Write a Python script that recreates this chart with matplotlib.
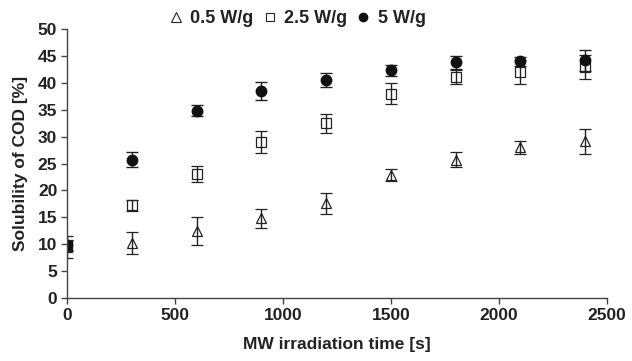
import matplotlib
matplotlib.use("Agg")
import matplotlib.pyplot as plt
from matplotlib.lines import Line2D

plt.rcParams['font.family'] = ['Liberation Sans', 'DejaVu Sans']
plt.rcParams['font.weight'] = 'bold'

time_s = [0, 300, 600, 900, 1200, 1500, 1800, 2100, 2400]

sol_05 = [9.5, 10.2, 12.5, 14.8, 17.6, 22.8, 25.7, 28.0, 29.1]
err_05 = [2.0, 2.1, 2.6, 1.8, 2.0, 1.1, 1.4, 1.2, 2.4]

sol_25 = [9.7, 17.2, 23.0, 29.0, 32.5, 38.0, 41.0, 42.0, 43.0]
err_25 = [1.0, 1.0, 1.5, 2.0, 1.8, 2.0, 1.3, 2.3, 2.2]

sol_5 = [9.8, 25.7, 34.8, 38.5, 40.5, 42.3, 43.8, 44.0, 44.2]
err_5 = [0.8, 1.4, 1.0, 1.7, 1.3, 1.0, 1.2, 0.8, 2.0]

series_labels = ['0.5 W/g', '2.5 W/g', '5 W/g']

fig = plt.figure(figsize=(6.32, 3.61), dpi=100)
ax = fig.add_axes([0.106, 0.1745, 0.854, 0.745])

ecol = '#222222'
common = dict(linestyle='none', ecolor=ecol, elinewidth=1.0, capsize=4, capthick=1.0)

ax.errorbar(time_s, sol_05, yerr=err_05, marker='^', markersize=7.5,
            markerfacecolor='none', markeredgecolor='#222222', markeredgewidth=0.9,
            label=series_labels[0], **common)
ax.errorbar(time_s, sol_25, yerr=err_25, marker='s', markersize=6.5,
            markerfacecolor='none', markeredgecolor='#222222', markeredgewidth=0.9,
            label=series_labels[1], **common)
ax.errorbar(time_s, sol_5, yerr=err_5, marker='o', markersize=7.5,
            markerfacecolor='#111111', markeredgecolor='#111111',
            label=series_labels[2], **common)

ax.set_xlim(0, 2500)
ax.set_ylim(0, 50)
ax.set_xticks(range(0, 2501, 500))
ax.set_yticks(range(0, 51, 5))
ax.spines['top'].set_visible(False)
ax.spines['right'].set_visible(False)
for s in ('left', 'bottom'):
    ax.spines[s].set_color('#444444')
    ax.spines[s].set_linewidth(1.0)
ax.tick_params(direction='out', length=4, width=1.0, color='#444444',
               labelsize=12.5, labelcolor='#222222', pad=3)
for lbl in ax.get_xticklabels() + ax.get_yticklabels():
    lbl.set_fontweight('bold')

ax.set_xlabel('MW irradiation time [s]', fontsize=12.5, fontweight='bold',
              color='#222222', labelpad=10)
ax.set_ylabel('Solubility of COD [%]', fontsize=12.5, fontweight='bold',
              color='#222222', labelpad=7)

handles = [
    Line2D([], [], linestyle='none', marker='^', markersize=7, markerfacecolor='none',
           markeredgecolor='#222222', markeredgewidth=0.8),
    Line2D([], [], linestyle='none', marker='s', markersize=6, markerfacecolor='none',
           markeredgecolor='#222222', markeredgewidth=0.8),
    Line2D([], [], linestyle='none', marker='o', markersize=6, markerfacecolor='#111111',
           markeredgecolor='#111111'),
]
fig.legend(handles, series_labels, loc='center', bbox_to_anchor=(0.468, 0.948), ncol=3,
           frameon=False, fontsize=13, handletextpad=0.25, columnspacing=0.35,
           handlelength=1.1, labelcolor='#222222')

fig.savefig('out.png', dpi=100)
